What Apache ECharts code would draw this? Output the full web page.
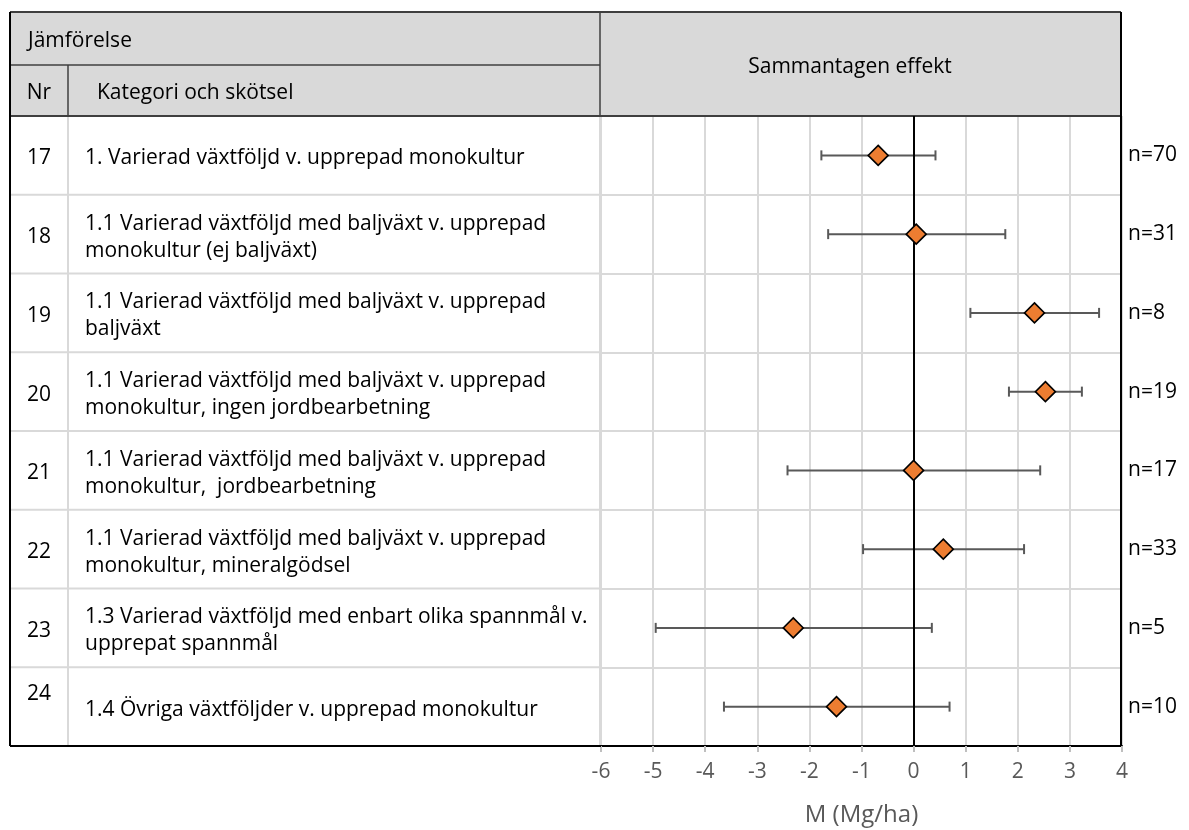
<!DOCTYPE html>
<html><head><meta charset="utf-8">
<script src="https://cdn.jsdelivr.net/npm/echarts@6/dist/echarts.min.js"></script>
<style>html,body{margin:0;padding:0;background:#fff}#c{width:1189px;height:830px}</style>
</head><body><div id="c"></div>
<script>
const nrs = ['17','18','19','20','21','22','23','24'];
const categories = [
  '1. Varierad växtföljd v. upprepad monokultur',
  '1.1 Varierad växtföljd med baljväxt v. upprepad\nmonokultur (ej baljväxt)',
  '1.1 Varierad växtföljd med baljväxt v. upprepad\nbaljväxt',
  '1.1 Varierad växtföljd med baljväxt v. upprepad\nmonokultur, ingen jordbearbetning',
  '1.1 Varierad växtföljd med baljväxt v. upprepad\nmonokultur,  jordbearbetning',
  '1.1 Varierad växtföljd med baljväxt v. upprepad\nmonokultur, mineralgödsel',
  '1.3 Varierad växtföljd med enbart olika spannmål v.\nupprepat spannmål',
  '1.4 Övriga växtföljder v. upprepad monokultur'
];
const effect = [-0.68, 0.05, 2.32, 2.53, 0.0, 0.57, -2.31, -1.48];
const lower  = [-1.77, -1.64, 1.09, 1.83, -2.42, -0.97, -4.95, -3.64];
const upper  = [0.42, 1.76, 3.56, 3.23, 2.43, 2.12, 0.35, 0.69];
const nLabels = ['n=70','n=31','n=8','n=19','n=17','n=33','n=5','n=10'];
const xTicks = {min: -6, max: 4, interval: 1};
const headerTexts = {top: 'Jämförelse', nr: 'Nr', cat: 'Kategori och skötsel', effect: 'Sammantagen effekt'};
const xTitle = 'M (Mg/ha)';

const FONT = '"Open Sans", "Noto Sans", sans-serif';
const chart = echarts.init(document.getElementById('c'), null, {renderer: 'canvas'});
const idx = categories.map((_, i) => i);

const G = {left: 601, top: 116, width: 521, height: 630};
const T = {left: 10, top: 12, mid: 65, colX: 68, right: 1121};
const TY = 3; // baseline nudge for text

chart.setOption({
  animation: false,
  textStyle: {fontFamily: FONT},
  grid: {left: G.left, top: G.top, width: G.width, height: G.height, containLabel: false, outerBoundsMode: 'none'},
  xAxis: {
    type: 'value', min: xTicks.min, max: xTicks.max, interval: xTicks.interval,
    axisLine: {show: true, lineStyle: {color: '#000', width: 2}},
    axisTick: {show: true, length: 6, lineStyle: {color: '#bfbfbf', width: 2}},
    axisLabel: {color: '#595959', fontSize: 21, margin: 16, fontFamily: FONT},
    splitLine: {show: true, lineStyle: {color: '#d9d9d9', width: 2}},
    name: xTitle, nameLocation: 'middle', nameGap: 57,
    nameTextStyle: {color: '#595959', fontSize: 24, fontFamily: FONT}
  },
  yAxis: [{
    type: 'category', data: idx, inverse: true, boundaryGap: true,
    axisLine: {show: false}, axisTick: {show: false}, axisLabel: {show: false},
    splitLine: {show: true, lineStyle: {color: '#d9d9d9', width: 2}}
  }, {
    type: 'category', data: nLabels, inverse: true, position: 'right', boundaryGap: true,
    axisLine: {show: false}, axisTick: {show: false},
    axisLabel: {color: '#000', fontSize: 21, margin: 6, align: 'left', fontFamily: FONT},
    splitLine: {show: false}
  }],
  series: [{
    type: 'custom',
    renderItem: function (params, api) {
      const y = api.value(0);
      const p1 = api.coord([api.value(1), y]);
      const p2 = api.coord([api.value(2), y]);
      const h = 5;
      const st = {stroke: '#595959', lineWidth: 2};
      return {type: 'group', children: [
        {type: 'line', shape: {x1: p1[0], y1: p1[1], x2: p2[0], y2: p2[1]}, style: st},
        {type: 'line', shape: {x1: p1[0], y1: p1[1]-h, x2: p1[0], y2: p1[1]+h}, style: st},
        {type: 'line', shape: {x1: p2[0], y1: p2[1]-h, x2: p2[0], y2: p2[1]+h}, style: st}
      ]};
    },
    encode: {x: [1, 2], y: 0},
    data: idx.map(i => [i, lower[i], upper[i]]),
    z: 3
  }, {
    type: 'scatter',
    data: idx.map(i => [effect[i], i]),
    symbol: 'diamond', symbolSize: [20, 20],
    itemStyle: {color: '#ED7D31', borderColor: '#000', borderWidth: 1.6, opacity: 1},
    z: 5,
    markLine: {
      silent: true, symbol: 'none', label: {show: false},
      lineStyle: {color: '#000', width: 2, type: 'solid'},
      data: [{xAxis: 0}]
    }
  }]
});

const rowH = G.height / categories.length;
const graphics = [];
const dark = '#3f3f3f';
graphics.push({type: 'rect', shape: {x: T.left, y: T.top, width: T.right - T.left, height: G.top - T.top}, style: {fill: '#d9d9d9', stroke: null}, z: 0});
for (let i = 1; i < categories.length; i++) {
  const y = chart.convertToPixel({yAxisIndex: 0}, i) - rowH / 2;
  graphics.push({type: 'line', shape: {x1: T.left, y1: y, x2: G.left, y2: y}, style: {stroke: '#d9d9d9', lineWidth: 2}, z: 1});
}
graphics.push({type: 'line', shape: {x1: T.colX, y1: G.top, x2: T.colX, y2: G.top + G.height}, style: {stroke: '#d9d9d9', lineWidth: 2}, z: 1});
graphics.push({type: 'line', shape: {x1: G.left - 1, y1: G.top, x2: G.left - 1, y2: G.top + G.height}, style: {stroke: '#d9d9d9', lineWidth: 2}, z: 1});
graphics.push({type: 'line', shape: {x1: T.left, y1: T.mid, x2: G.left - 1, y2: T.mid}, style: {stroke: dark, lineWidth: 1.5}, z: 2});
graphics.push({type: 'line', shape: {x1: T.colX, y1: T.mid, x2: T.colX, y2: G.top}, style: {stroke: dark, lineWidth: 1.5}, z: 2});
graphics.push({type: 'line', shape: {x1: G.left - 1, y1: T.top, x2: G.left - 1, y2: G.top}, style: {stroke: dark, lineWidth: 1.5}, z: 2});
graphics.push({type: 'line', shape: {x1: T.left, y1: G.top, x2: T.right, y2: G.top}, style: {stroke: dark, lineWidth: 2}, z: 2});
graphics.push({type: 'line', shape: {x1: T.left, y1: T.top, x2: T.right, y2: T.top}, style: {stroke: dark, lineWidth: 2}, z: 2});
graphics.push({type: 'line', shape: {x1: T.right, y1: T.top, x2: T.right, y2: G.top + G.height}, style: {stroke: '#000', lineWidth: 2}, z: 2});
graphics.push({type: 'line', shape: {x1: T.left, y1: T.top, x2: T.left, y2: G.top + G.height}, style: {stroke: '#000', lineWidth: 2}, z: 2});
graphics.push({type: 'line', shape: {x1: T.left, y1: G.top + G.height, x2: G.left, y2: G.top + G.height}, style: {stroke: '#000', lineWidth: 2}, z: 2});
const hs = {fill: '#000', fontSize: 21, fontFamily: FONT};
const rs = {fill: '#000', fontSize: 21, fontFamily: FONT};
graphics.push({type: 'text', x: 28, y: (T.top + T.mid) / 2 + TY, style: Object.assign({text: headerTexts.top, verticalAlign: 'middle'}, hs), z: 3});
graphics.push({type: 'text', x: (T.left + T.colX) / 2, y: (T.mid + G.top) / 2 + TY, style: Object.assign({text: headerTexts.nr, align: 'center', verticalAlign: 'middle'}, hs), z: 3});
graphics.push({type: 'text', x: 97, y: (T.mid + G.top) / 2 + TY, style: Object.assign({text: headerTexts.cat, verticalAlign: 'middle'}, hs), z: 3});
graphics.push({type: 'text', x: 850, y: (T.top + G.top) / 2 + TY, style: Object.assign({text: headerTexts.effect, align: 'center', verticalAlign: 'middle'}, hs), z: 3});
categories.forEach((c, i) => {
  const yc = chart.convertToPixel({yAxisIndex: 0}, i) + TY;
  const last = i === categories.length - 1;
  graphics.push({type: 'text', x: (T.left + T.colX) / 2, y: last ? yc - 16 : yc, style: Object.assign({text: nrs[i], align: 'center', verticalAlign: 'middle'}, rs), z: 3});
  graphics.push({type: 'text', x: 85, y: yc, style: Object.assign({text: c, verticalAlign: 'middle', lineHeight: 27}, rs), z: 3});
});
chart.setOption({graphic: graphics});
</script>
</body></html>
